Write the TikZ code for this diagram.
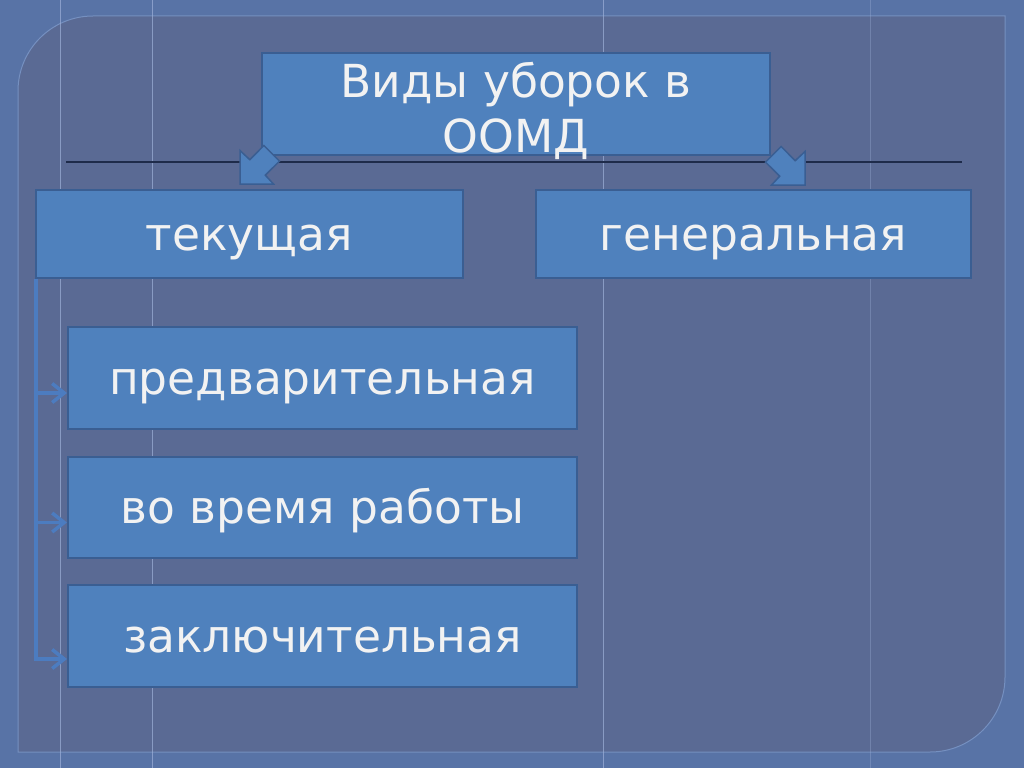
\documentclass[tikz,border=0pt]{standalone}
\usepackage{fontspec}
\newfontfamily\dvs{DejaVu Sans}
\usetikzlibrary{arrows.meta}
\definecolor{outerbg}{HTML}{5873A6}
\definecolor{panelbg}{HTML}{5A6A94}
\definecolor{panelrim}{HTML}{7590C0}
\definecolor{gridline}{HTML}{9DB0D8}
\definecolor{boxfill}{HTML}{4F81BD}
\definecolor{boxrim}{HTML}{3A5E92}
\definecolor{darkline}{HTML}{1E2B4A}
\definecolor{conncol}{HTML}{4C7CC0}
\definecolor{txt}{HTML}{F2F2F2}
\begin{document}
\begin{tikzpicture}[x=1pt,y=-1pt,
  box/.style={draw=boxrim, line width=2pt, fill=boxfill, text=txt, inner sep=0pt,
    font=\dvs\fontsize{45.5}{55}\selectfont},
  onebox/.style={box, text height=32pt, text depth=0pt},
  boxtext/.style={text=txt, inner sep=0pt, align=center, font=\dvs\fontsize{45.5}{55}\selectfont},
  blockarrow/.style={draw=boxrim, line width=1.5pt, fill=boxfill, line join=miter},
  conn/.style={draw=conncol, line width=3.5pt, -{Straight Barb[length=12pt,width=19pt,line width=3.5pt]}},
  grid/.style={draw=gridline, line width=1pt, opacity=0.7}
]
\useasboundingbox (0,0) rectangle (1024,768);
\fill[outerbg] (0,0) rectangle (1024,768);
% panel
\filldraw[fill=panelbg, draw=panelrim, line width=1pt]
  (18,752) -- (18,91) .. controls (18,49.6) and (51.6,16) .. (93,16)
  -- (1005,16) -- (1005,677) .. controls (1005,718.4) and (971.4,752) .. (930,752) -- cycle;
% faint grid lines
\draw[grid] (60,0) -- (60,768);
\draw[grid] (152,0) -- (152,768);
\draw[grid] (603,0) -- (603,768);
\draw[grid, opacity=0.35] (870,0) -- (870,768);
% dark horizontal line
\draw[darkline, line width=1.5pt] (66,162) -- (962,162);
% nodes
\node[box, minimum width=508pt, minimum height=102pt] (top) at (516,104) {};
\node[onebox, minimum width=427pt, minimum height=88pt] (tek) at (249.5,234) {текущая};
\node[onebox, minimum width=435pt, minimum height=88pt] (gen) at (753.5,234) {генеральная};
\node[onebox, minimum width=509pt, minimum height=102pt] (pred) at (322.5,378) {предварительная};
\node[onebox, minimum width=509pt, minimum height=101pt] (vo) at (322.5,507.5) {во время работы};
\node[onebox, minimum width=509pt, minimum height=102pt] (zak) at (322.5,636) {заключительная};
% block arrows
\filldraw[blockarrow] (240,184) -- (273.5,184) -- (265.3,175.2) -- (279.5,161.1) -- (263.9,145.5) -- (249.8,159.7) -- (240,150.5) -- cycle;
\filldraw[blockarrow] (805,185) -- (771.5,185) -- (779.7,176.2) -- (765.5,162.1) -- (781.1,146.5) -- (795.2,160.7) -- (805,151.5) -- cycle;
% title text
\node[boxtext] (toptxt) at (top.center) {\rule{0pt}{50pt}Виды уборок в\\ООМД};
% connectors
\draw[conn] ([xshift=1pt]tek.south west) |- ([yshift=-15pt]pred.west);
\draw[conn] ([xshift=1pt]tek.south west) |- ([yshift=-15pt]vo.west);
\draw[conn] ([xshift=1pt]tek.south west) |- ([yshift=-23pt]zak.west);
\end{tikzpicture}
\end{document}
